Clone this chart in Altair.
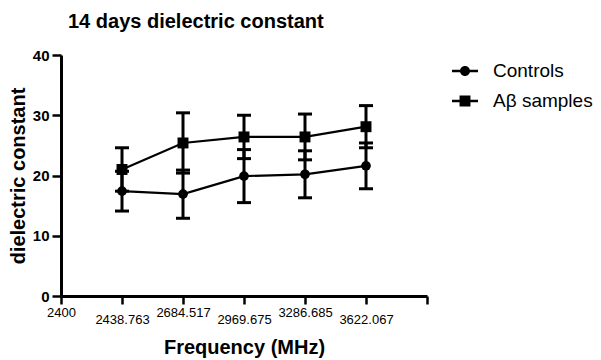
import json
import altair as alt
import pandas as pd

# ---- data ----
freq_labels = ["2400", "2438.763", "2684.517", "2969.675", "3286.685", "3622.067"]
series_names = ["Controls", "A\u03b2 samples"]
controls_mean = [17.4, 16.9, 19.9, 20.2, 21.6]
controls_sd = [3.3, 4.0, 4.4, 3.9, 3.8]
ab_mean = [21.0, 25.4, 26.4, 26.4, 28.1]
ab_sd = [3.6, 5.0, 3.6, 3.8, 3.5]

rows = []
for name, means, sds in [(series_names[0], controls_mean, controls_sd),
                         (series_names[1], ab_mean, ab_sd)]:
    for i, (m, s) in enumerate(zip(means, sds)):
        rows.append({"series": name, "pos": i + 1, "freq": freq_labels[i + 1],
                     "mean": m, "lo": m - s, "hi": m + s})
df = pd.DataFrame(rows)
legend_df = pd.DataFrame({"series": series_names})

FONT = "Liberation Sans"
label_expr = json.dumps(freq_labels + [""]) + "[datum.value]"

x_enc = alt.X("pos:Q",
              scale=alt.Scale(domain=[0, 6], nice=False, zero=False),
              axis=alt.Axis(values=list(range(7)), labelExpr=label_expr,
                            title="Frequency (MHz)", labelFlush=False,
                            labelOverlap=False, labelFontSize=13,
                            labelPadding={"condition": {"test": "datum.value % 2 == 1", "value": 9},
                                          "value": 2},
                            tickSize=8, tickWidth=2.5, domainWidth=3,
                            titleFontSize=20, titleFontWeight="bold",
                            titleX=183, titleY=57, titleBaseline="alphabetic",
                            titleAlign="center", grid=False))
y_axis = alt.Axis(values=[0, 10, 20, 30, 40], title="dielectric constant",
                  labelFontSize=15, labelFontWeight="bold", labelPadding=3,
                  tickSize=9, tickWidth=2.5, domainWidth=3, grid=False,
                  titleFontSize=20, titleFontWeight="bold", titleX=-37,
                  titleY=120.5, titleAngle=270, titleBaseline="alphabetic",
                  titleAlign="center")
y_scale = alt.Scale(domain=[0, 40], nice=False)

base = alt.Chart(df)

bars = base.mark_rule(color="black", strokeWidth=3).encode(
    x=x_enc, y=alt.Y("lo:Q", scale=y_scale, axis=y_axis), y2="hi:Q")
cap_lo = base.mark_tick(color="black", orient="horizontal", size=14,
                        thickness=3, opacity=1).encode(x="pos:Q", y="lo:Q")
cap_hi = base.mark_tick(color="black", orient="horizontal", size=14,
                        thickness=3, opacity=1).encode(x="pos:Q", y="hi:Q")
lines = base.mark_line(color="black", strokeWidth=2.2).encode(
    x="pos:Q", y="mean:Q", detail="series:N")
points = base.mark_point(filled=True, color="black", opacity=1).encode(
    x="pos:Q", y="mean:Q",
    shape=alt.Shape("series:N", scale=alt.Scale(domain=series_names,
                                                range=["circle", "square"]),
                    legend=None),
    size=alt.Size("series:N", scale=alt.Scale(domain=series_names, range=[95, 120]),
                  legend=None))

circle_path = ("M-1,-0.096L-0.3,-0.096L-0.3,0.096L-1,0.096Z"
               "M0.3,-0.096L1,-0.096L1,0.096L0.3,0.096Z"
               "M-0.385,0A0.385,0.385 0 1,1 0.385,0A0.385,0.385 0 1,1 -0.385,0Z")
square_path = ("M-1,-0.096L-0.3,-0.096L-0.3,0.096L-1,0.096Z"
               "M0.3,-0.096L1,-0.096L1,0.096L0.3,0.096Z"
               "M-0.42,-0.42L0.42,-0.42L0.42,0.42L-0.42,0.42Z")

legend_layer = alt.Chart(legend_df).mark_point(
    filled=True, color="black", opacity=1, size=676, clip=True).encode(
    x=alt.value(-300), y=alt.value(-300),
    shape=alt.Shape("series:N",
                    scale=alt.Scale(domain=series_names, range=[circle_path, square_path]),
                    legend=alt.Legend(title=None, orient="none", legendX=391, legendY=3,
                                      symbolSize=676, symbolFillColor="black",
                                      symbolStrokeWidth=0, labelFontSize=19,
                                      labelFont=FONT, labelColor="black",
                                      labelOffset=15, rowPadding=7)))

chart = alt.layer(bars, cap_lo, cap_hi, lines, points, legend_layer).resolve_scale(
    shape="independent", size="independent"
).properties(
    width=366, height=241, autosize="none",
    padding={"left": 61, "top": 55, "right": 174, "bottom": 64},
    title=alt.TitleParams("14 days dielectric constant", anchor="start",
                          frame="group", dx=7, dy=20, fontSize=20, font=FONT,
                          fontWeight="bold", baseline="alphabetic", offset=20,
                          color="black"),
).configure_axis(
    labelFont=FONT, titleFont=FONT, labelColor="black", titleColor="black",
    domainColor="black", tickColor="black"
).configure_view(strokeWidth=0)

chart.save("out.html", embed_options={"renderer": "svg", "actions": False})
